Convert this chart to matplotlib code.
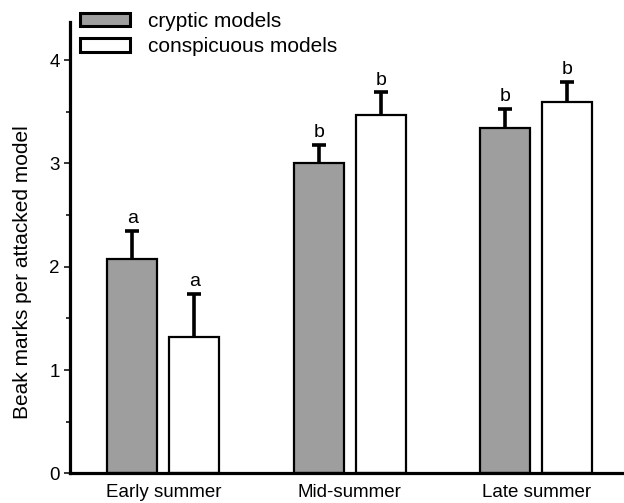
import numpy as np
import matplotlib.pyplot as plt
from matplotlib.patches import Patch
from matplotlib.ticker import MultipleLocator

plt.rcParams["font.family"] = ["Liberation Sans", "DejaVu Sans"]

seasons = ["Early summer", "Mid-summer", "Late summer"]
cryptic = [2.07, 3.00, 3.34]
cryptic_se = [0.28, 0.18, 0.19]
conspicuous = [1.32, 3.47, 3.59]
conspicuous_se = [0.42, 0.22, 0.20]
cryptic_letters = ["a", "b", "b"]
conspicuous_letters = ["a", "b", "b"]

GREY = "#9d9e9d"
x = np.arange(len(seasons))
w = 0.268
off = 0.167

fig = plt.figure(figsize=(6.24, 5.03), dpi=100)
ax = fig.add_axes([0.1122, 0.059, 0.8878, 0.8975])

for xs, vals, se, face, letters in [
    (x - off, cryptic, cryptic_se, GREY, cryptic_letters),
    (x + off, conspicuous, conspicuous_se, "white", conspicuous_letters),
]:
    ax.bar(xs, vals, width=w, color=face, edgecolor="black", linewidth=1.6, zorder=2)
    # one-sided (upper) error bars: hide the cap at the bar top
    eb = ax.errorbar(xs, vals, yerr=[np.zeros(len(vals)), se], fmt="none",
                     ecolor="black", elinewidth=2.6, capsize=5, capthick=2.6, zorder=3)
    eb[1][0].set_visible(False)
    for xi, v, s, lab in zip(xs, vals, se, letters):
        ax.annotate(lab, (xi, v + s), xytext=(0, 2.5), textcoords="offset points",
                    ha="center", va="bottom", fontsize=14)

ax.set_xlim(-0.5, 2.47)
ax.set_ylim(0, 4.37)
ax.set_xticks(x)
ax.set_xticklabels(seasons, fontsize=13.5)
ax.tick_params(axis="x", length=0, pad=8)
ax.yaxis.set_major_locator(MultipleLocator(1))
ax.yaxis.set_minor_locator(MultipleLocator(0.5))
ax.tick_params(axis="y", which="major", length=4.5, width=1.1, labelsize=13.5, pad=3)
ax.tick_params(axis="y", which="minor", length=3, width=1.1)
ax.set_ylabel("Beak marks per attacked model", fontsize=15)
ax.yaxis.set_label_coords(-0.069, 0.446)

for side in ["top", "right"]:
    ax.spines[side].set_visible(False)
for side in ["left", "bottom"]:
    ax.spines[side].set_linewidth(2.3)
    ax.spines[side].set_zorder(4)

handles = [Patch(facecolor=GREY, edgecolor="black", linewidth=2.2, label="cryptic models"),
           Patch(facecolor="white", edgecolor="black", linewidth=2.2, label="conspicuous models")]
ax.legend(handles=handles, loc="upper left", bbox_to_anchor=(80 / 624, 1 - 12 / 503),
          bbox_transform=fig.transFigure, frameon=False, fontsize=15, borderpad=0,
          borderaxespad=0, handlelength=2.4, handleheight=0.61, handletextpad=0.87,
          labelspacing=0.3)

fig.savefig("out.png", dpi=100)
